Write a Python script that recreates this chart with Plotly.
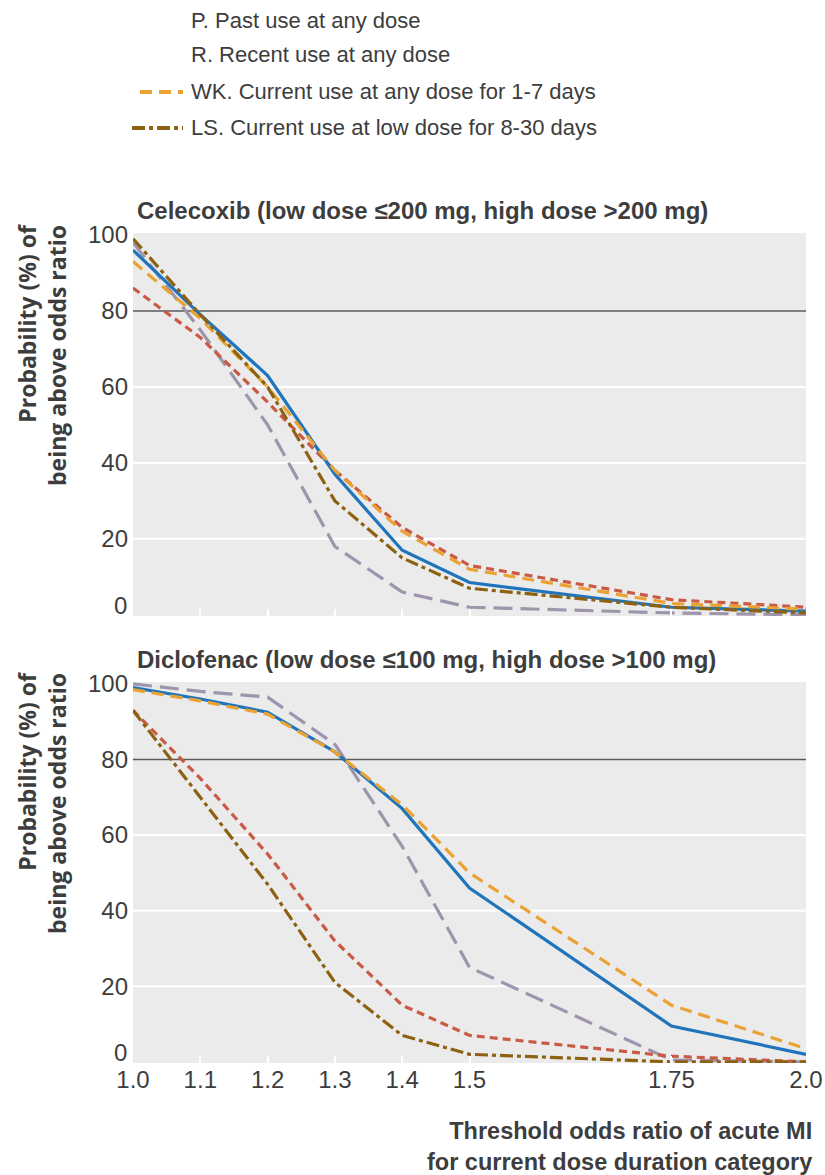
import plotly.graph_objects as go

# ---------------- data ----------------
THRESHOLD_LABELS = ["1.0", "1.1", "1.2", "1.3", "1.4", "1.5", "1.75", "2.0"]

PANEL_TITLES = [
    "Celecoxib (low dose ≤200 mg, high dose >200 mg)",
    "Diclofenac (low dose ≤100 mg, high dose >100 mg)",
]

LEGEND_TEXTS = [
    "P. Past use at any dose",
    "R. Recent use at any dose",
    "WK. Current use at any dose for 1-7 days",
    "LS. Current use at low dose for 8-30 days",
]

# Celecoxib panel
cele_blue = [96, 79, 63, 37, 17, 8.5, 2, 1]
cele_gray = [98, 75, 50, 18, 6, 2, 0.5, 0]
cele_red = [86, 73, 56, 38, 23, 13, 4, 2]
cele_wk = [93, 78, 60, 38, 22, 12, 3, 1.5]
cele_ls = [99, 79, 60, 30, 15, 7, 2, 0.5]

# Diclofenac panel
diclo_blue = [99, 96, 92.5, 82, 67, 46, 9.5, 2]
diclo_gray = [100, 98, 96.5, 84, 57, 25, 0.5, 0]
diclo_red = [93, 75, 55, 32, 15, 7, 1.5, 0]
diclo_wk = [98.5, 95.5, 92, 82, 68, 50, 15, 3.5]
diclo_ls = [93, 70, 47, 21, 7, 2, 0, 0]

Y_TICKS = [20, 40, 60, 80, 100]
Y_ZERO_LABEL = "0"

# ---------------- layout helpers ----------------
W, H = 825, 1175

AXIS_POS = {"1.0": 0, "1.1": 1, "1.2": 2, "1.3": 3, "1.4": 4, "1.5": 5, "1.75": 8, "2.0": 10}
xpos = [AXIS_POS[l] for l in THRESHOLD_LABELS]

def px(x):
    return x / W

def py(y):
    return 1 - y / H

TEXT = "#3d3d3d"
FONT = "Liberation Sans, Arial, sans-serif"

BLUE = "#1f74bb"
GRAY = "#9e95ad"
RED = "#c95a45"
ORANGE = "#eaa233"
BROWN = "#8c6212"

LW = 3.2
styles = {
    "gray": dict(color=GRAY, width=LW, dash="19px,8px"),
    "red": dict(color=RED, width=LW, dash="8px,5px"),
    "blue": dict(color=BLUE, width=LW),
    "wk": dict(color=ORANGE, width=LW, dash="12px,7px"),
    "ls": dict(color=BROWN, width=LW, dash="13px,4px,4px,4px"),
}

fig = go.Figure()

panels = [
    ("x", "y", dict(gray=cele_gray, red=cele_red, blue=cele_blue, wk=cele_wk, ls=cele_ls)),
    ("x2", "y2", dict(gray=diclo_gray, red=diclo_red, blue=diclo_blue, wk=diclo_wk, ls=diclo_ls)),
]
names = {"gray": "Long-dash series", "red": "Short-dash series", "blue": "Solid series",
         "wk": "WK", "ls": "LS"}
for xa, ya, series in panels:
    for key in ["gray", "red", "blue", "wk", "ls"]:
        fig.add_trace(go.Scatter(
            x=xpos, y=series[key], mode="lines", name=names[key],
            line=styles[key], showlegend=False, xaxis=xa, yaxis=ya,
        ))

# axes
top_dom = [py(616), py(233)]
bot_dom = [py(1063), py(682)]
x_dom = [px(133), px(806)]
yrange = [-0.3, 100.5]

common_x = dict(range=[0, 10], domain=x_dom, showgrid=False, zeroline=False,
                tickvals=xpos, ticktext=THRESHOLD_LABELS, ticks="inside",
                tickcolor="white", ticklen=7, tickwidth=2, showline=False,
                automargin=False, fixedrange=True,
                tickfont=dict(family=FONT, size=24, color=TEXT))
common_y = dict(range=yrange, showgrid=False, zeroline=False, tickvals=Y_TICKS,
                ticks="", showline=False, ticklabelstandoff=4, automargin=False,
                fixedrange=True,
                tickfont=dict(family=FONT, size=24, color=TEXT))

fig.update_layout(
    width=W, height=H,
    autosize=False,
    margin=dict(l=0, r=0, t=0, b=0, pad=0),
    paper_bgcolor="white",
    plot_bgcolor="#ebebeb",
    xaxis=dict(common_x, anchor="y", showticklabels=False),
    yaxis=dict(common_y, domain=top_dom, anchor="x"),
    xaxis2=dict(common_x, anchor="y2"),
    yaxis2=dict(common_y, domain=bot_dom, anchor="x2"),
)

# grid lines (white) and the 80% reference line
for xr, yr in [("x", "y"), ("x2", "y2")]:
    for g in [20, 40, 60]:
        fig.add_shape(type="line", xref=f"{xr} domain", yref=yr, x0=0, x1=1, y0=g, y1=g,
                      line=dict(color="white", width=2), layer="below")
    fig.add_shape(type="line", xref=f"{xr} domain", yref=yr, x0=0, x1=1, y0=80, y1=80,
                  line=dict(color="#5a5a5a", width=1.5), layer="below")
    # zero tick label, lifted slightly above the baseline as in the original
    fig.add_annotation(text=Y_ZERO_LABEL, xref="paper", yref=yr, x=px(129), y=0,
                       xanchor="right", yanchor="middle", yshift=9, showarrow=False,
                       font=dict(family=FONT, size=24, color=TEXT))

# panel titles
for title, ytop in zip(PANEL_TITLES, [211, 659]):
    fig.add_annotation(text=title, xref="paper", yref="paper", x=px(135), y=py(ytop),
                       xanchor="left", yanchor="middle", showarrow=False,
                       font=dict(family=FONT, size=24, color=TEXT, weight="bold"))

# y-axis titles
for ytop in [222, 670]:
    fig.add_annotation(text="Probability (%) of<br>being above odds ratio",
                       xref="paper", yref="paper", x=px(42), y=py(ytop),
                       xanchor="center", yanchor="top", textangle=-90, align="right",
                       showarrow=False,
                       font=dict(family="Open Sans, sans-serif", size=23, color=TEXT, weight="bold"))

# x-axis title
fig.add_annotation(text="Threshold odds ratio of acute MI<br>for current dose duration category",
                   xref="paper", yref="paper", x=px(814), y=py(1146), xanchor="right",
                   yanchor="middle", align="right", showarrow=False,
                   font=dict(family=FONT, size=23.5, color=TEXT, weight="bold"))

# legend (text + symbols)
leg_y = [21, 55, 92, 128]
for txt, yy in zip(LEGEND_TEXTS, leg_y):
    fig.add_annotation(text=txt, xref="paper", yref="paper", x=px(189), y=py(yy),
                       xanchor="left", yanchor="middle", showarrow=False,
                       font=dict(family=FONT, size=22, color=TEXT))
fig.add_shape(type="line", xref="paper", yref="paper", x0=px(140), x1=px(183),
              y0=py(92), y1=py(92), line=dict(color=ORANGE, width=4, dash="12px,7px"))
fig.add_shape(type="line", xref="paper", yref="paper", x0=px(132), x1=px(183),
              y0=py(128), y1=py(128), line=dict(color=BROWN, width=4, dash="13px,4px,4px,4px"))

# remove the browser's default 8px page margin so the figure fills the window
fig.write_html(
    "out.html",
    config={"displayModeBar": False},
    post_script="document.body.style.margin='0px';document.body.style.overflow='hidden';",
)
